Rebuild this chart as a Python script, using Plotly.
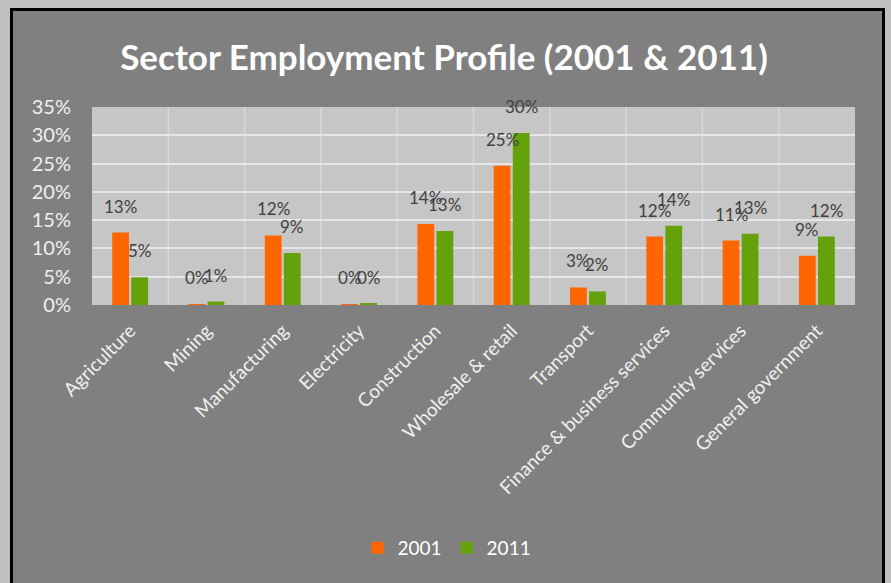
import plotly.graph_objects as go

sectors = ["Agriculture", "Mining", "Manufacturing", "Electricity", "Construction",
           "Wholesale & retail", "Transport", "Finance & business services",
           "Community services", "General government"]
share_2001 = [0.128, 0.001, 0.123, 0.001, 0.143, 0.246, 0.031, 0.121, 0.114, 0.087]
share_2011 = [0.049, 0.006, 0.092, 0.002, 0.131, 0.304, 0.024, 0.140, 0.126, 0.121]
y_ticks = [0, 0.05, 0.10, 0.15, 0.20, 0.25, 0.30, 0.35]
y_tick_text = ["0%", "5%", "10%", "15%", "20%", "25%", "30%", "35%"]

W, H = 891, 583
L, R, T, B = 92, 36, 107, 278
PW, PH = W - L - R, H - T - B

def px_x(p):
    return (p - L) / PW

def px_y(p):
    return (H - B - p) / PH

FONT = "Lato"
BARGAP, GROUPGAP = 0.5, 0.12
slot = (1 - BARGAP) / 2          # width of one bar slot in category units
offsets = [-slot / 2, slot / 2]   # bar centres relative to the category

fig = go.Figure()
series = [("2001", share_2001, "#FF6600"), ("2011", share_2011, "#64A10A")]
for name, vals, colour in series:
    fig.add_trace(go.Bar(name=name, x=sectors, y=vals, marker_color=colour,
                         marker_line_width=0))

# value labels sitting above each bar
annotations = []
for (name, vals, colour), off in zip(series, offsets):
    for i, v in enumerate(vals):
        annotations.append(dict(
            x=i + off, y=v, xref="x", yref="y", text=f"{v:.0%}",
            showarrow=False, yanchor="bottom", yshift=14,
            font=dict(family=FONT, size=17, color="#404040"),
        ))

frame = [
    # light surround outside the chart frame
    dict(type="rect", xref="paper", yref="paper", layer="above",
         x0=px_x(0), x1=px_x(W), y0=px_y(9), y1=px_y(0),
         fillcolor="#C0C0C0", line_width=0),
    dict(type="rect", xref="paper", yref="paper", layer="above",
         x0=px_x(0), x1=px_x(10), y0=px_y(H), y1=px_y(0),
         fillcolor="#C0C0C0", line_width=0),
    dict(type="rect", xref="paper", yref="paper", layer="above",
         x0=px_x(885), x1=px_x(W), y0=px_y(H), y1=px_y(0),
         fillcolor="#C0C0C0", line_width=0),
    # dark frame lines
    dict(type="line", xref="paper", yref="paper", layer="above",
         x0=px_x(10), x1=px_x(885), y0=px_y(9.5), y1=px_y(9.5),
         line=dict(color="#000000", width=3)),
    dict(type="line", xref="paper", yref="paper", layer="above",
         x0=px_x(11.5), x1=px_x(11.5), y0=px_y(H), y1=px_y(9),
         line=dict(color="#000000", width=3)),
    dict(type="line", xref="paper", yref="paper", layer="above",
         x0=px_x(883.5), x1=px_x(883.5), y0=px_y(H), y1=px_y(9),
         line=dict(color="#000000", width=3)),
]
separators = [
    dict(type="line", xref="x", yref="paper", layer="below",
         x0=i + 0.5, x1=i + 0.5, y0=0, y1=1,
         line=dict(color="#D8D8D8", width=1.5))
    for i in range(len(sectors) - 1)
]

fig.update_layout(
    width=W, height=H,
    margin=dict(l=L, r=R, t=T, b=B, pad=0),
    paper_bgcolor="#808080",
    plot_bgcolor="#C6C6C6",
    barmode="group", bargap=BARGAP, bargroupgap=GROUPGAP,
    title=dict(text="<b>Sector Employment Profile (2001 & 2011)</b>",
               x=444 / W, xanchor="center", xref="container",
               y=1 - 58 / H, yanchor="middle",
               font=dict(family=FONT, size=35, color="#FFFFFF")),
    font=dict(family=FONT),
    legend=dict(orientation="h", x=(447 - L) / PW, xanchor="center",
                y=px_y(548), yanchor="middle",
                font=dict(family=FONT, size=19, color="#FFFFFF"),
                bgcolor="rgba(0,0,0,0)", itemwidth=30, traceorder="normal"),
    xaxis=dict(tickangle=-45, showgrid=False, ticks="",
               tickfont=dict(family=FONT, size=19, color="#F0F0F0"),
               ticklabelstandoff=10, showline=False, fixedrange=True),
    yaxis=dict(range=[0, 0.35], tickvals=y_ticks, ticktext=y_tick_text,
               gridcolor="#E6E6E6", gridwidth=1.5, zeroline=False,
               tickfont=dict(family=FONT, size=20, color="#F0F0F0"),
               ticks="", ticklabelstandoff=20, fixedrange=True),
    annotations=annotations,
    shapes=separators + frame,
)

fig.write_html("out.html")
